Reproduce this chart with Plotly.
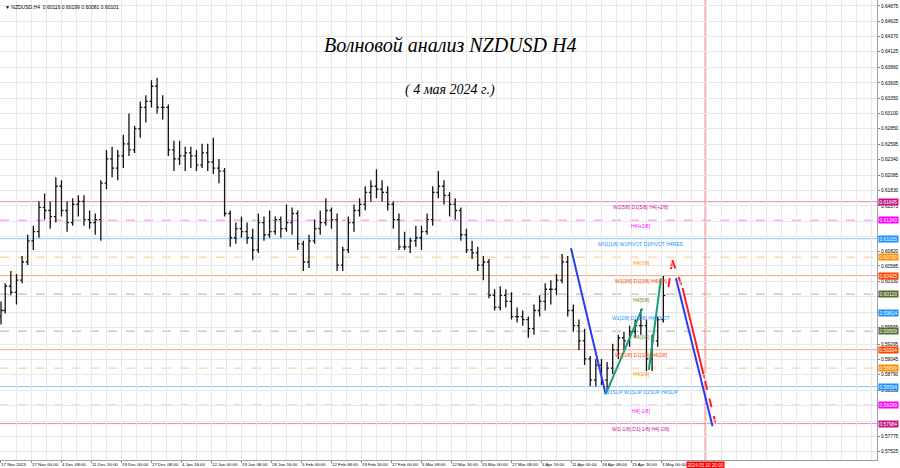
import plotly.graph_objects as go
from datetime import datetime, timedelta, date

# ---------------- data ----------------
days = ["2023-11-17","2023-11-20","2023-11-21","2023-11-22","2023-11-23","2023-11-24",
        "2023-11-27","2023-11-28","2023-11-29","2023-11-30","2023-12-01",
        "2023-12-04","2023-12-05","2023-12-06","2023-12-07","2023-12-08",
        "2023-12-11","2023-12-12","2023-12-13","2023-12-14","2023-12-15",
        "2023-12-18","2023-12-19","2023-12-20","2023-12-21","2023-12-22",
        "2023-12-26","2023-12-27","2023-12-28","2023-12-29",
        "2024-01-02","2024-01-03","2024-01-04","2024-01-05",
        "2024-01-08","2024-01-09","2024-01-10","2024-01-11","2024-01-12",
        "2024-01-15","2024-01-16","2024-01-17","2024-01-18","2024-01-19",
        "2024-01-22","2024-01-23","2024-01-24","2024-01-25","2024-01-26",
        "2024-01-29","2024-01-30","2024-01-31","2024-02-01","2024-02-02",
        "2024-02-05","2024-02-06","2024-02-07","2024-02-08","2024-02-09",
        "2024-02-12","2024-02-13","2024-02-14","2024-02-15","2024-02-16",
        "2024-02-19","2024-02-20","2024-02-21","2024-02-22","2024-02-23",
        "2024-02-26","2024-02-27","2024-02-28","2024-02-29","2024-03-01",
        "2024-03-04","2024-03-05","2024-03-06","2024-03-07","2024-03-08",
        "2024-03-11","2024-03-12","2024-03-13","2024-03-14","2024-03-15",
        "2024-03-18","2024-03-19","2024-03-20","2024-03-21","2024-03-22",
        "2024-03-25","2024-03-26","2024-03-27","2024-03-28","2024-03-29",
        "2024-04-01","2024-04-02","2024-04-03","2024-04-04","2024-04-05",
        "2024-04-08","2024-04-09","2024-04-10","2024-04-11","2024-04-12",
        "2024-04-15","2024-04-16","2024-04-17","2024-04-18","2024-04-19",
        "2024-04-22","2024-04-23","2024-04-24","2024-04-25","2024-04-26",
        "2024-04-29","2024-04-30","2024-05-01","2024-05-02","2024-05-03"]
opens = [.5975,.5985,.6025,.6015,.6035,.6065, .6100,.6115,.6155,.6150,.6140,
         .6190,.6150,.6130,.6160,.6165, .6135,.6130,.6135,.6195,.6235,
         .6220,.6240,.6260,.6250,.6285, .6320,.6330,.6355,.6320,
         .6320,.6250,.6235,.6240, .6245,.6240,.6225,.6245,.6230,
         .6220,.6215,.6145,.6105,.6120, .6115,.6105,.6085,.6130,.6110,
         .6115,.6135,.6120,.6130,.6145, .6095,.6065,.6100,.6120,.6130,
         .6150,.6135,.6060,.6085,.6130, .6150,.6160,.6180,.6190,.6185,
         .6180,.6160,.6135,.6090,.6090, .6100,.6105,.6115,.6135,.6180,
         .6190,.6175,.6160,.6150,.6110, .6085,.6080,.6060,.6065,.6010,
         .5990,.6010,.6000,.5975,.5975, .5970,.5955,.5985,.6000,.6020,
         .6020,.6035,.6065,.5985,.5960, .5935,.5905,.5870,.5895,.5870,
         .5890,.5920,.5940,.5935,.5950, .5960,.5960,.5905,.5935,.5970]
highs = [.6000,.6030,.6050,.6045,.6075,.6110, .6125,.6165,.6178,.6165,.6205,
         .6200,.6165,.6170,.6175,.6175, .6150,.6145,.6200,.6250,.6255,
         .6250,.6275,.6310,.6290,.6330, .6340,.6365,.6369,.6340,
         .6325,.6265,.6265,.6255, .6255,.6250,.6260,.6260,.6270,
         .6235,.6220,.6150,.6130,.6140, .6130,.6120,.6145,.6140,.6150,
         .6140,.6140,.6160,.6155,.6150, .6100,.6110,.6135,.6150,.6170,
         .6155,.6145,.6090,.6140,.6160, .6170,.6190,.6200,.6218,.6200,
         .6190,.6165,.6145,.6115,.6105, .6125,.6125,.6145,.6190,.6215,
         .6200,.6180,.6170,.6155,.6120, .6100,.6090,.6075,.6070,.6020,
         .6025,.6020,.6015,.5990,.5985, .5975,.5995,.6010,.6030,.6035,
         .6045,.6078,.6075,.5995,.5970, .5955,.5910,.5905,.5905,.5900,
         .5930,.5945,.5950,.5960,.5970, .5987,.5970,.5945,.5975,.6042]
lows = [.5962,.5980,.6010,.5995,.6030,.6060, .6085,.6105,.6135,.6120,.6130,
        .6140,.6115,.6125,.6140,.6125, .6120,.6110,.6100,.6185,.6205,
        .6200,.6220,.6240,.6245,.6270, .6295,.6320,.6310,.6300,
        .6240,.6215,.6225,.6215, .6220,.6215,.6220,.6215,.6210,
        .6195,.6140,.6090,.6095,.6105, .6095,.6068,.6080,.6100,.6105,
        .6110,.6105,.6115,.6110,.6085, .6050,.6055,.6095,.6110,.6125,
        .6120,.6050,.6050,.6080,.6115, .6140,.6150,.6165,.6170,.6165,
        .6150,.6120,.6085,.6085,.6080, .6090,.6085,.6110,.6125,.6170,
        .6160,.6140,.6135,.6100,.6080, .6070,.6050,.6035,.6005,.5985,
        .5985,.5990,.5970,.5965,.5960, .5940,.5945,.5975,.5985,.5995,
        .6010,.6030,.5975,.5950,.5920, .5895,.5860,.5860,.5862,.5852,
        .5880,.5905,.5920,.5925,.5940, .5945,.5885,.5885,.5925,.5965]
closes = [.5985,.6025,.6015,.6035,.6065,.6100, .6115,.6155,.6150,.6140,.6190,
          .6150,.6130,.6160,.6165,.6135, .6130,.6135,.6195,.6235,.6220,
          .6240,.6260,.6250,.6285,.6320, .6330,.6355,.6320,.6320,
          .6250,.6235,.6240,.6245, .6240,.6225,.6245,.6230,.6220,
          .6215,.6145,.6105,.6120,.6115, .6105,.6085,.6130,.6110,.6115,
          .6135,.6120,.6130,.6145,.6095, .6065,.6100,.6120,.6130,.6150,
          .6135,.6060,.6085,.6130,.6150, .6160,.6180,.6190,.6185,.6180,
          .6160,.6135,.6090,.6090,.6100, .6105,.6115,.6135,.6180,.6190,
          .6175,.6160,.6150,.6110,.6085, .6080,.6060,.6065,.6010,.5990,
          .6010,.6000,.5975,.5975,.5970, .5955,.5985,.6000,.6020,.6020,
          .6035,.6065,.5985,.5960,.5935, .5905,.5870,.5895,.5870,.5890,
          .5920,.5940,.5935,.5950,.5960, .5960,.5905,.5935,.5970,.6010]

level_prices = [0.61645, 0.61340, 0.61035, 0.60730, 0.60425, 0.60120, 0.59814,
                0.59509, 0.59204, 0.58899, 0.58594, 0.58289, 0.57984]
level_names = ["W1[5/8] D1[5/8] H4[+2/8]", "H4[+1/8]", "MN1[1/8] W1PIVOT D1PIVOT H4RES",
               "H4[7/8]", "W1[3/8] D1[3/8] H4[6/8]", "H4[5/8]", "W1[2/8] D1[2/8] H4PIVOT",
               "H4[3/8]", "W1[1/8] D1[1/8] H4[2/8]", "H4[1/8]", "W1SUP W1SUP D1SUP H4SUP",
               "H4[-1/8]", "W1[-1/8] D1[-1/8] H4[-2/8]"]
level_colors = ["#c71585", "#ff00ff", "#1e90ff", "#ff8c00", "#ff4500", "#556b2f", "#1e90ff",
                "#556b2f", "#ff4500", "#ff8c00", "#1e90ff", "#ff00ff", "#c71585"]
level_text_colors = ["#c71585", "#ff00ff", "#1e90ff", "#ff8c00", "#ff4500", "#6b8e23", "#1e90ff",
                     "#6b8e23", "#ff4500", "#ff8c00", "#1e90ff", "#ff00ff", "#c71585"]
level_dash = ["solid", "dash", "solid", "dash", "solid", "dash", "solid",
              "dash", "solid", "dash", "solid", "dash", "solid"]

price_ticks = [0.64875, 0.64625, 0.64370, 0.64125, 0.63860, 0.63605, 0.63350, 0.63100,
               0.62850, 0.62595, 0.62340, 0.62085, 0.61830, 0.61575, 0.61320, 0.61065,
               0.60820, 0.60585, 0.60330, 0.60075, 0.59820, 0.59565, 0.59295, 0.59045,
               0.58790, 0.58535, 0.58280, 0.58025, 0.57775, 0.57525]

time_ticks = ["2023-11-17 12:00", "2023-11-27 00:00", "2023-12-04 08:00", "2023-12-11 16:00",
              "2023-12-19 00:00", "2023-12-27 08:00", "2024-01-04 16:00", "2024-01-12 00:00",
              "2024-01-19 08:00", "2024-01-26 16:00", "2024-02-05 00:00", "2024-02-12 08:00",
              "2024-02-19 16:00", "2024-02-27 00:00", "2024-03-05 08:00", "2024-03-12 16:00",
              "2024-03-20 00:00", "2024-03-27 08:00", "2024-04-03 16:00", "2024-04-11 00:00",
              "2024-04-18 08:00", "2024-04-25 16:00", "2024-05-03 00:00"]
time_labels = ["17 Nov 2023", "27 Nov 00:00", "4 Dec 08:00", "11 Dec 16:00", "19 Dec 00:00",
               "27 Dec 08:00", "4 Jan 16:00", "12 Jan 00:00", "19 Jan 08:00", "26 Jan 16:00",
               "5 Feb 00:00", "12 Feb 08:00", "19 Feb 16:00", "27 Feb 00:00", "5 Mar 08:00",
               "12 Mar 16:00", "20 Mar 00:00", "27 Mar 08:00", "3 Apr 16:00", "11 Apr 00:00",
               "18 Apr 08:00", "25 Apr 16:00", "3 May 00:00"]

# wave drawings (time, price)
blue_a_t = ["2024-04-11 00:00", "2024-04-19 04:00"]
blue_a_p = [0.60876, 0.58467]
green_1_t = ["2024-04-19 04:00", "2024-04-29 16:00"]
green_1_p = [0.58467, 0.59886]
green_2_t = ["2024-04-30 20:00", "2024-05-03 00:00"]
green_2_p = [0.58868, 0.60381]
blue_b_t = ["2024-05-05 16:00", "2024-05-12 04:00"]
blue_b_p = [0.60381, 0.57941]
red_up_t = ["2024-05-04 08:00", "2024-05-05 00:00"]
red_up_p = [0.60237, 0.60683]
red_dn1_t = ["2024-05-05 00:00", "2024-05-06 20:00"]
red_dn1_p = [0.60683, 0.60221]
red_dn2_t = ["2024-05-06 20:00", "2024-05-10 20:00"]
red_dn2_p = [0.60221, 0.58687]
red_dn3_t = ["2024-05-10 20:00", "2024-05-12 20:00"]
red_dn3_p = [0.58687, 0.57941]

marker_time = "2024-05-10 20:00"
marker_label = "2024.05.10 20:00"
header = "NZDUSD,H4  0.60116 0.60199 0.60081 0.60101"
title_1 = "Волновой анализ NZDUSD H4"
title_2 = "( 4 мая 2024 г.)"

# ---------------- bar calendar (H4, weekdays) ----------------
holidays = {date(2023, 12, 25), date(2024, 1, 1)}
bars = []
t = datetime(2023, 11, 17, 12)
t_end = datetime(2024, 5, 3, 20)
while t <= t_end:
    if t.weekday() < 5 and t.date() not in holidays:
        bars.append(t)
    t += timedelta(hours=4)
bar_index = {b: i for i, b in enumerate(bars)}
last_bar = bars[-1]


def xi(s):
    tt = datetime.strptime(s, "%Y-%m-%d %H:%M")
    if tt in bar_index:
        return bar_index[tt]
    return len(bars) - 1 + (tt - last_bar) / timedelta(hours=4)


def day_x(d):
    dd = datetime.strptime(d, "%Y-%m-%d").date()
    ids = [i for i, b in enumerate(bars) if b.date() == dd]
    return sum(ids) / len(ids)


xs = [day_x(d) for d in days]
assert len(xs) == len(opens) == len(highs) == len(lows) == len(closes)

PX = 0.9375  # pixels per bar in the reference
x_lo = -0.06 / PX
x_hi = x_lo + 877 / PX

fig = go.Figure()
fig.add_trace(go.Ohlc(
    x=xs, open=opens, high=highs, low=lows, close=closes,
    increasing=dict(line=dict(color="#111111", width=1.3)),
    decreasing=dict(line=dict(color="#111111", width=1.3)),
    tickwidth=0.45, hoverinfo="skip", showlegend=False))


def add_line(ts, ps, color, dash="solid", width=2, arrow=False):
    fig.add_trace(go.Scatter(
        x=[xi(s) for s in ts], y=ps, mode="lines+markers" if arrow else "lines",
        line=dict(color=color, width=width, dash=dash),
        marker=dict(symbol="arrow", size=[0, 7], angleref="previous", color=color),
        showlegend=False, hoverinfo="skip"))


add_line(blue_a_t, blue_a_p, "#2a3cf0")
add_line(green_1_t, green_1_p, "#12a07a")
add_line(green_2_t, green_2_p, "#12a07a")
add_line(blue_b_t, blue_b_p, "#2a3cf0")
add_line(red_up_t, red_up_p, "#ff2020", dash="dash", arrow=True)
add_line(red_dn1_t, red_dn1_p, "#ff2020", dash="dash", arrow=True)
add_line(red_dn2_t, red_dn2_p, "#ff2020", arrow=True)
add_line(red_dn3_t, red_dn3_p, "#ff2020", dash="dash", arrow=True)

shapes = []
annotations = []
label_x = xi("2024-04-29 12:00")
for p, name, c, tc, dsh in zip(level_prices, level_names, level_colors, level_text_colors, level_dash):
    shapes.append(dict(type="line", xref="paper", x0=0, x1=1, yref="y", y0=p, y1=p,
                       line=dict(color=c, width=1, dash="dash" if dsh == "dash" else "solid"),
                       opacity=0.5, layer="between"))
    annotations.append(dict(x=label_x, y=p, xref="x", yref="y", text=name, showarrow=False,
                            xanchor="center", yanchor="top", yshift=-0.5,
                            font=dict(size=5, color=tc, family="Liberation Sans")))
    annotations.append(dict(x=1, y=p, xref="paper", yref="y", text=f"{p:.5f}", showarrow=False,
                            xanchor="left", yanchor="middle", xshift=0.5, bgcolor=c,
                            borderpad=0.6, font=dict(size=4.8, color="white", family="Liberation Sans")))

# price labels that sit right under a level box are hidden, as on the reference
tick_text = ["" if min(abs(v - p) for p in level_prices) < 0.0005 else f"{v:.5f}" for v in price_ticks]

mx = xi(marker_time)
shapes.append(dict(type="line", xref="x", x0=mx, x1=mx, yref="paper", y0=0, y1=1,
                   line=dict(color="#f08080", width=1), layer="between"))
annotations.append(dict(x=mx, y=0, xref="x", yref="paper", text=marker_label, showarrow=False,
                        xanchor="center", yanchor="top", yshift=-1, bgcolor="#ff0000",
                        borderpad=0.5, font=dict(size=4.6, color="white", family="Liberation Sans")))
annotations.append(dict(x=0.003, y=1, xref="paper", yref="paper", text="▼ " + header, showarrow=False,
                        xanchor="left", yanchor="top", yshift=-2,
                        font=dict(size=5, color="black", family="Liberation Sans")))
annotations.append(dict(x=450 / 877, y=0.902, xref="paper", yref="paper", text=title_1, showarrow=False,
                        xanchor="center", yanchor="middle",
                        font=dict(size=20, color="black", family="Liberation Serif", style="italic")))
annotations.append(dict(x=450 / 877, y=0.804, xref="paper", yref="paper", text=title_2, showarrow=False,
                        xanchor="center", yanchor="middle",
                        font=dict(size=14, color="black", family="Liberation Serif", style="italic")))

fig.update_layout(
    width=900, height=468, margin=dict(l=0, r=23, t=0, b=8, autoexpand=False),
    paper_bgcolor="white", plot_bgcolor="white",
    shapes=shapes, annotations=annotations, showlegend=False,
    xaxis=dict(range=[x_lo, x_hi], rangeslider=dict(visible=False), automargin=False,
               tickvals=[xi(s) for s in time_ticks], ticktext=time_labels, tickangle=0,
               ticklabelposition="outside right", ticks="outside", ticklen=2, tickcolor="#888",
               tickfont=dict(size=4.4, color="black", family="Liberation Sans"),
               showgrid=True, gridcolor="#e8e8e8", gridwidth=1,
               minor=dict(dtick=16, tick0=xi("2023-11-27 00:00"), showgrid=True,
                          gridcolor="#e8e8e8", gridwidth=1),
               showline=True, linecolor="#a0a0a0", linewidth=1, mirror=True, zeroline=False),
    yaxis=dict(range=[0.57383, 0.64973], side="right", tickvals=price_ticks, automargin=False,
               ticktext=tick_text, ticks="outside", ticklen=2,
               tickcolor="#888", tickfont=dict(size=4.8, color="black", family="Liberation Sans"),
               showgrid=True, gridcolor="#e8e8e8", gridwidth=1,
               showline=True, linecolor="#a0a0a0", linewidth=1, mirror=True, zeroline=False),
)
fig.write_html("out.html", config={"displayModeBar": False},
               post_script="document.body.style.margin='0';document.body.style.overflow='hidden';")
